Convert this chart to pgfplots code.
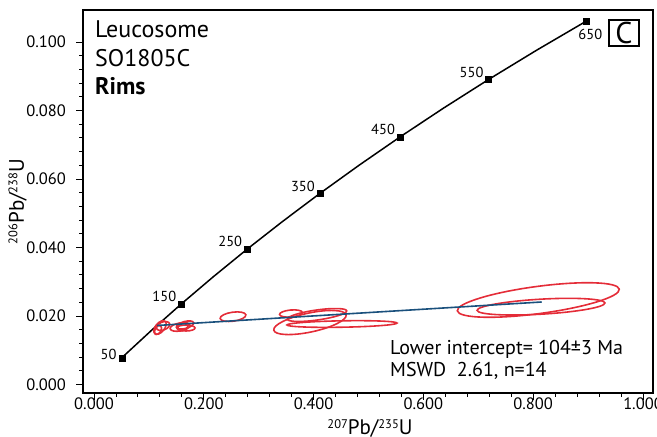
\documentclass[border=0pt]{standalone}
\usepackage{pgfplots}
\pgfplotsset{compat=1.18}
\usepackage{fontspec}
\setmainfont{PT Sans}
\definecolor{ellred}{RGB}{228,44,56}
\definecolor{discblue}{RGB}{26,80,124}
\newcommand{\iso}[1]{\raisebox{6.5pt}{\fontsize{12.5}{13}\selectfont #1}}
\begin{document}
\begin{tikzpicture}
\begin{axis}[
  at={(0,0)}, anchor=south west, name=ax,
  scale only axis, width=570pt, height=383pt,
  xmin=-0.02004, xmax=1.01821, ymin=-0.002482, ymax=0.10934,
  axis line style={line width=1.1pt},
  xtick={0,0.2,0.4,0.6,0.8,1}, ytick={0,0.02,0.04,0.06,0.08,0.1},
  minor x tick num=4, minor y tick num=4,
  xtick pos=bottom, ytick pos=left, tick align=outside,
  major tick length=6.5pt, minor tick length=3.5pt,
  tick style={line width=0.9pt, black},
  scaled ticks=false,
  /pgf/number format/assume math mode=true,
  ticklabel style={font=\fontsize{16.5}{18}\selectfont, /pgf/number format/fixed, /pgf/number format/fixed zerofill, /pgf/number format/precision=3, /pgf/number format/assume math mode=true},
  xticklabel style={yshift=5pt},
  yticklabel style={xshift=-7pt},
  clip=false,
]
% concordia curve (ages 50..650 Ma, every 50 Ma)
\addplot[black, line width=1.5pt, no marks] coordinates {
(0.05047,0.007786) (0.10350,0.015633) (0.15920,0.023542) (0.21771,0.031511)
(0.27917,0.039543) (0.34375,0.047637) (0.41156,0.055795) (0.48282,0.064016)
(0.55763,0.072300) (0.63623,0.080650) (0.71882,0.089064) (0.80565,0.097544)
(0.89672,0.106090)};
\addplot[black, only marks, mark=square*, mark size=3pt] coordinates {
(0.05047,0.007786) (0.15920,0.023542) (0.27917,0.039543) (0.41156,0.055795)
(0.55763,0.072300) (0.71882,0.089064) (0.89672,0.106090)};
% age labels
\node[anchor=south east, inner sep=1pt, font=\fontsize{14.5}{16}\selectfont, xshift=-4pt, yshift=-3pt] at (axis cs:0.05047,0.007786) {50};
\node[anchor=south east, inner sep=1pt, font=\fontsize{14.5}{16}\selectfont, xshift=-4pt, yshift=1pt] at (axis cs:0.15920,0.023542) {150};
\node[anchor=south east, inner sep=1pt, font=\fontsize{14.5}{16}\selectfont, xshift=-4pt, yshift=1pt] at (axis cs:0.27917,0.039543) {250};
\node[anchor=south east, inner sep=1pt, font=\fontsize{14.5}{16}\selectfont, xshift=-4pt, yshift=1pt] at (axis cs:0.41156,0.055795) {350};
\node[anchor=south east, inner sep=1pt, font=\fontsize{14.5}{16}\selectfont, xshift=-4pt, yshift=1pt] at (axis cs:0.55763,0.072300) {450};
\node[anchor=south east, inner sep=1pt, font=\fontsize{14.5}{16}\selectfont, xshift=-4pt, yshift=1pt] at (axis cs:0.71882,0.089064) {550};
\node[anchor=north, inner sep=1pt, font=\fontsize{14.5}{16}\selectfont, xshift=4pt, yshift=-7pt] at (axis cs:0.89672,0.106090) {650};
% error ellipses
\begin{scope}[ellred, line width=1.6pt]
\draw[rotate around={50:(axis cs:0.1202,0.01664)}] (axis cs:0.1202,0.01664) ellipse [x radius=8pt, y radius=4.5pt];
\draw[rotate around={20:(axis cs:0.1257,0.01708)}] (axis cs:0.1257,0.01708) ellipse [x radius=7pt, y radius=4pt];
\draw[rotate around={60:(axis cs:0.1166,0.01591)}] (axis cs:0.1166,0.01591) ellipse [x radius=5pt, y radius=3pt];
\draw[rotate around={10:(axis cs:0.1566,0.01679)}] (axis cs:0.1566,0.01679) ellipse [x radius=10pt, y radius=4pt];
\draw[rotate around={15:(axis cs:0.1658,0.01737)}] (axis cs:0.1658,0.01737) ellipse [x radius=9pt, y radius=3.5pt];
\draw[rotate around={0:(axis cs:0.1676,0.01650)}] (axis cs:0.1676,0.01650) ellipse [x radius=9pt, y radius=3pt];
\draw[rotate around={30:(axis cs:0.1621,0.01693)}] (axis cs:0.1621,0.01693) ellipse [x radius=6pt, y radius=3.5pt];
\draw[rotate around={8:(axis cs:0.2532,0.01980)}] (axis cs:0.2532,0.01980) ellipse [x radius=13pt, y radius=4.5pt];
\draw[rotate around={5:(axis cs:0.3588,0.02073)}] (axis cs:0.3588,0.02073) ellipse [x radius=11.5pt, y radius=3.5pt];
\draw[rotate around={8:(axis cs:0.4062,0.02029)}] (axis cs:0.4062,0.02029) ellipse [x radius=30pt, y radius=5pt];
\draw[rotate around={12:(axis cs:0.3934,0.01810)}] (axis cs:0.3934,0.01810) ellipse [x radius=37pt, y radius=9.5pt];
\draw[rotate around={1:(axis cs:0.4517,0.01766)}] (axis cs:0.4517,0.01766) ellipse [x radius=55pt, y radius=3.2pt];
\draw[rotate around={7.6:(axis cs:0.8093,0.02467)}] (axis cs:0.8093,0.02467) ellipse [x radius=81.7pt, y radius=13.6pt];
\draw[rotate around={3.3:(axis cs:0.8142,0.02272)}] (axis cs:0.8142,0.02272) ellipse [x radius=64pt, y radius=7.5pt];
\end{scope}
% discordia
\addplot[discblue, line width=1.6pt, no marks] coordinates {(0.1148,0.01723) (0.8155,0.02409)};
\end{axis}
% texts (1pt = 1px; px (X,Y) -> (X-83, 393-Y))
\node[anchor=base west, inner sep=0pt, font=\fontsize{24}{26}\selectfont] at (12pt,355.7pt) {Leucosome};
\node[anchor=base west, inner sep=0pt, font=\fontsize{24}{26}\selectfont] at (12pt,326.3pt) {SO1805C};
\node[anchor=base west, inner sep=0pt, font=\fontsize{24}{26}\selectfont\bfseries] at (12pt,298.7pt) {Rims};
\node[anchor=base west, inner sep=0pt, font=\fontsize{20}{22}\selectfont] at (307pt,38pt) {Lower intercept= 104±3 Ma};
\node[anchor=base west, inner sep=0pt, font=\fontsize{20}{22}\selectfont] at (307pt,16.3pt) {MSWD\ \ 2.61, n=14};
\draw[line width=1.1pt] (526pt,347pt) rectangle (556pt,373pt);
\node[inner sep=0pt, font=\fontsize{30}{32}\selectfont] at (541pt,360pt) {C};
\node[anchor=base, inner sep=0pt, font=\fontsize{21}{22}\selectfont] at (287pt,-41.5pt) {\iso{207}Pb/\iso{235}U};
\node[anchor=base, rotate=90, inner sep=0pt, font=\fontsize{21}{22}\selectfont] at (-59pt,191.5pt) {\iso{206}Pb/\iso{238}U};
\pgfresetboundingbox
\path[use as bounding box] (-83pt,-44pt) rectangle (574pt,393pt);
\end{tikzpicture}
\end{document}
